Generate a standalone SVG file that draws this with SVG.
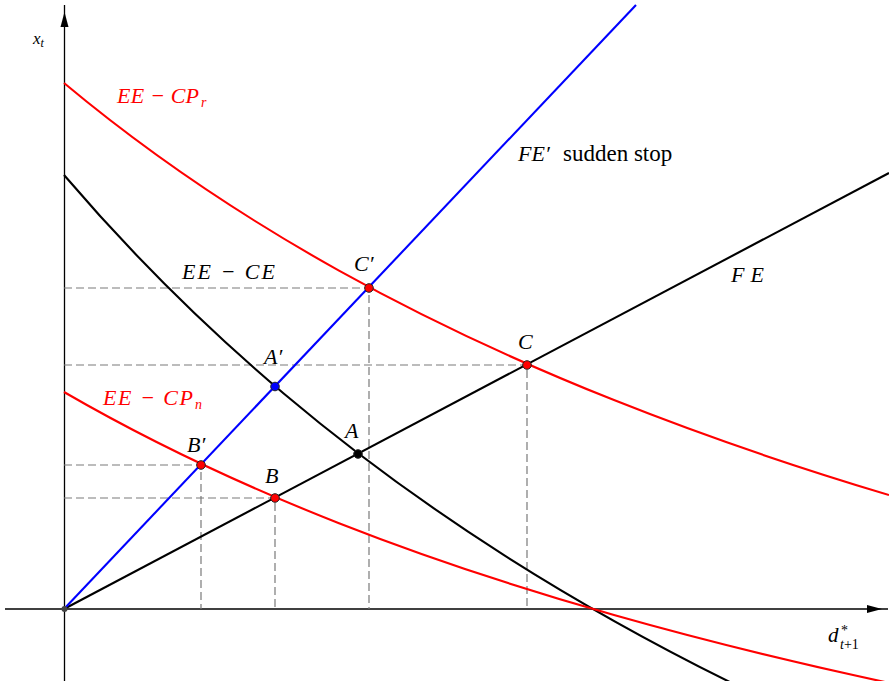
<svg xmlns="http://www.w3.org/2000/svg" width="889" height="681" viewBox="0 0 889 681">
<style>
.ax{stroke:#000;stroke-width:1.3;fill:none}
.dash{stroke:#7a7a7a;stroke-width:1.2;stroke-dasharray:8 4;fill:none}
.k{stroke:#000;stroke-width:2.1;fill:none}
.r{stroke:#ff0000;stroke-width:2.1;fill:none}
.b{stroke:#0000ff;stroke-width:2.1;fill:none}
.m{font-family:"Liberation Serif","Times New Roman",serif;font-style:italic;font-size:22px;fill:#000}
.up{font-style:normal}
.red{fill:#ff0000}
.sub{font-size:14px}
.dot{stroke:#222;stroke-width:1}
</style>
<rect width="889" height="681" fill="#fff"/>
<g id="axes">
<line class="ax" x1="5" y1="609" x2="888" y2="609"/>
<polygon points="882,609 867,605 867,613" fill="#000"/>
<line class="ax" x1="64.5" y1="681" x2="64.5" y2="5"/>
<polygon points="64.5,12 60.5,27 68.5,27" fill="#000"/>
</g>
<g id="guides">
<path class="dash" d="M64,288H369V609"/>
<path class="dash" d="M64,365H527V609"/>
<path class="dash" d="M64,465H201V609"/>
<path class="dash" d="M64,498H275V609"/>
</g>
<g id="connectors">
<path id="FE" class="k" d="M64,609L889,173"/>
<path id="FEprime" class="b" d="M64,609L636,5"/>
<path id="EE-CE" class="k" d="M64,175C137.3,260.8 210.7,331.8 284,393.7C357.3,455.6 430.7,508.3 504,555.1C584,606.1 664,649.9 744,689"/>
<path id="EE-CPr" class="r" d="M64,83C155.7,159.6 247.3,219.5 339,270.6C430.7,321.7 522.3,363.6 614,400.1C705.7,436.6 797.3,467.6 889,495"/>
<path id="EE-CPn" class="r" d="M64,392C155.7,445.1 247.3,487.2 339,523.2C430.7,559.2 522.3,589 614,615C705.7,641 797.3,663.2 889,682.9"/>
</g>
<g id="origin"><circle cx="64.5" cy="609" r="3" fill="#444"/></g>
<g id="Bp"><circle class="dot" cx="201" cy="465" r="4.3" fill="#ff0000"/><text class="m" x="187" y="452">B′</text></g>
<g id="B"><circle class="dot" cx="275" cy="498" r="4.3" fill="#ff0000"/><text class="m" x="265" y="483">B</text></g>
<g id="Ap"><circle class="dot" cx="275" cy="386.5" r="4.3" fill="#0000ff"/><text class="m" x="264" y="364">A′</text></g>
<g id="A"><circle class="dot" cx="358" cy="454" r="4.3" fill="#000"/><text class="m" x="345" y="438">A</text></g>
<g id="Cp"><circle class="dot" cx="369" cy="288" r="4.3" fill="#ff0000"/><text class="m" x="354" y="271">C′</text></g>
<g id="C"><circle class="dot" cx="527" cy="365" r="4.3" fill="#ff0000"/><text class="m" x="518" y="349">C</text></g>
<g id="labels">
<text class="m" x="33" y="44" style="font-size:17px">x<tspan style="font-size:12px" dy="3">t</tspan></text>
<text class="m red" x="117" y="103" textLength="82" lengthAdjust="spacing">EE − CP</text>
<text class="m red sub" x="201" y="107">r</text>
<text class="m" x="182" y="279" textLength="93" lengthAdjust="spacing">EE − CE</text>
<text class="m red" x="103" y="405" textLength="90" lengthAdjust="spacing">EE − CP</text>
<text class="m red sub" x="195" y="409">n</text>
<text class="m" x="518" y="161">FE′<tspan class="up" x="563" style="font-size:23px">sudden stop</tspan></text>
<text class="m" x="731" y="282" textLength="33" lengthAdjust="spacing">FE</text>
<text class="m" x="828" y="642" style="font-size:21px">d</text>
<text class="m" x="841" y="635" style="font-size:14px;font-style:normal">*</text>
<text class="m" x="840" y="649" style="font-size:14px">t<tspan class="up">+1</tspan></text>
</g>
</svg>
